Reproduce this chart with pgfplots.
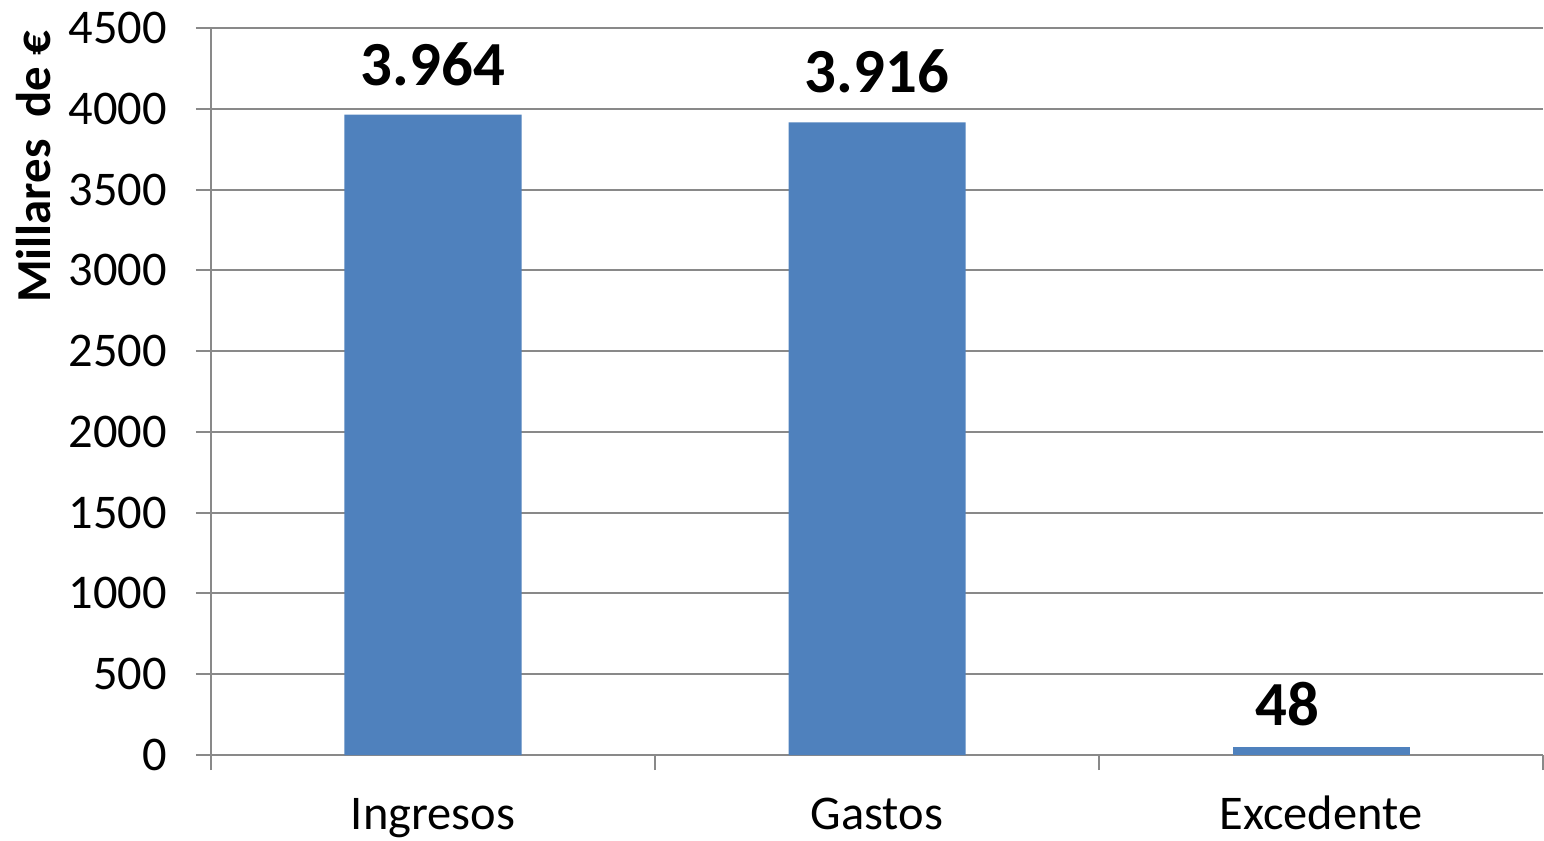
\documentclass[border=0pt]{standalone}
\usepackage{pgfplots}
\pgfplotsset{compat=1.18}
\usepackage{fontspec}
\setmainfont{Carlito}
\definecolor{barblue}{HTML}{4F81BD}
\definecolor{gridgray}{HTML}{898989}
\begin{document}
\begin{tikzpicture}
\path[use as bounding box] (-105.5bp,-43bp) rectangle (666.5bp,377.5bp);
\begin{axis}[
    at={(0,0)}, anchor=south west,
    scale only axis,
    width=666bp, height=363.5bp,
    xmin=-0.5, xmax=2.5,
    ymin=0, ymax=4500,
    ytick={0,500,...,4500},
    xtick={0,1,2},
    xticklabels={Ingresos,Gastos,Excedente},
    minor xtick={-0.5,0.5,1.5,2.5},
    major x tick style={draw=none},
    tick align=outside,
    major tick length=7.5bp,
    minor tick length=7.5bp,
    axis x line*=bottom,
    axis y line*=left,
    axis line style={gridgray, line width=1bp, -},
    tick style={gridgray, line width=1bp},
    ymajorgrids,
    grid style={gridgray, line width=1bp},
    /pgf/number format/assume math mode=true,
    /pgf/number format/set thousands separator={},
    tick label style={font=\fontsize{24.3}{28}\selectfont, black},
    yticklabel style={xshift=-11bp},
    xticklabel style={anchor=base, yshift=-29.5bp, inner sep=0pt},
    ylabel={\textbf{Millares~~de €}},
    ylabel style={at={(axis description cs:-0.1329,0.809)}, anchor=center,
        font=\fontsize{24.5}{28}\selectfont},
    ybar, bar width=88.5bp, bar shift=0pt,
    point meta=explicit symbolic,
    nodes near coords={\pgfplotspointmeta},
    nodes near coords style={font=\bfseries\fontsize{31.5}{36}\selectfont, black, anchor=south},
  ]
  \addplot[fill=barblue, draw=none, nodes near coords style={yshift=11bp}] coordinates {
    (0,3964)[3.964] (1,3916)[3.916]
  };
  \addplot[fill=barblue, draw=none, nodes near coords style={xshift=-17bp, yshift=7bp}] coordinates {
    (2,48)[48]
  };
\end{axis}
\end{tikzpicture}
\end{document}
